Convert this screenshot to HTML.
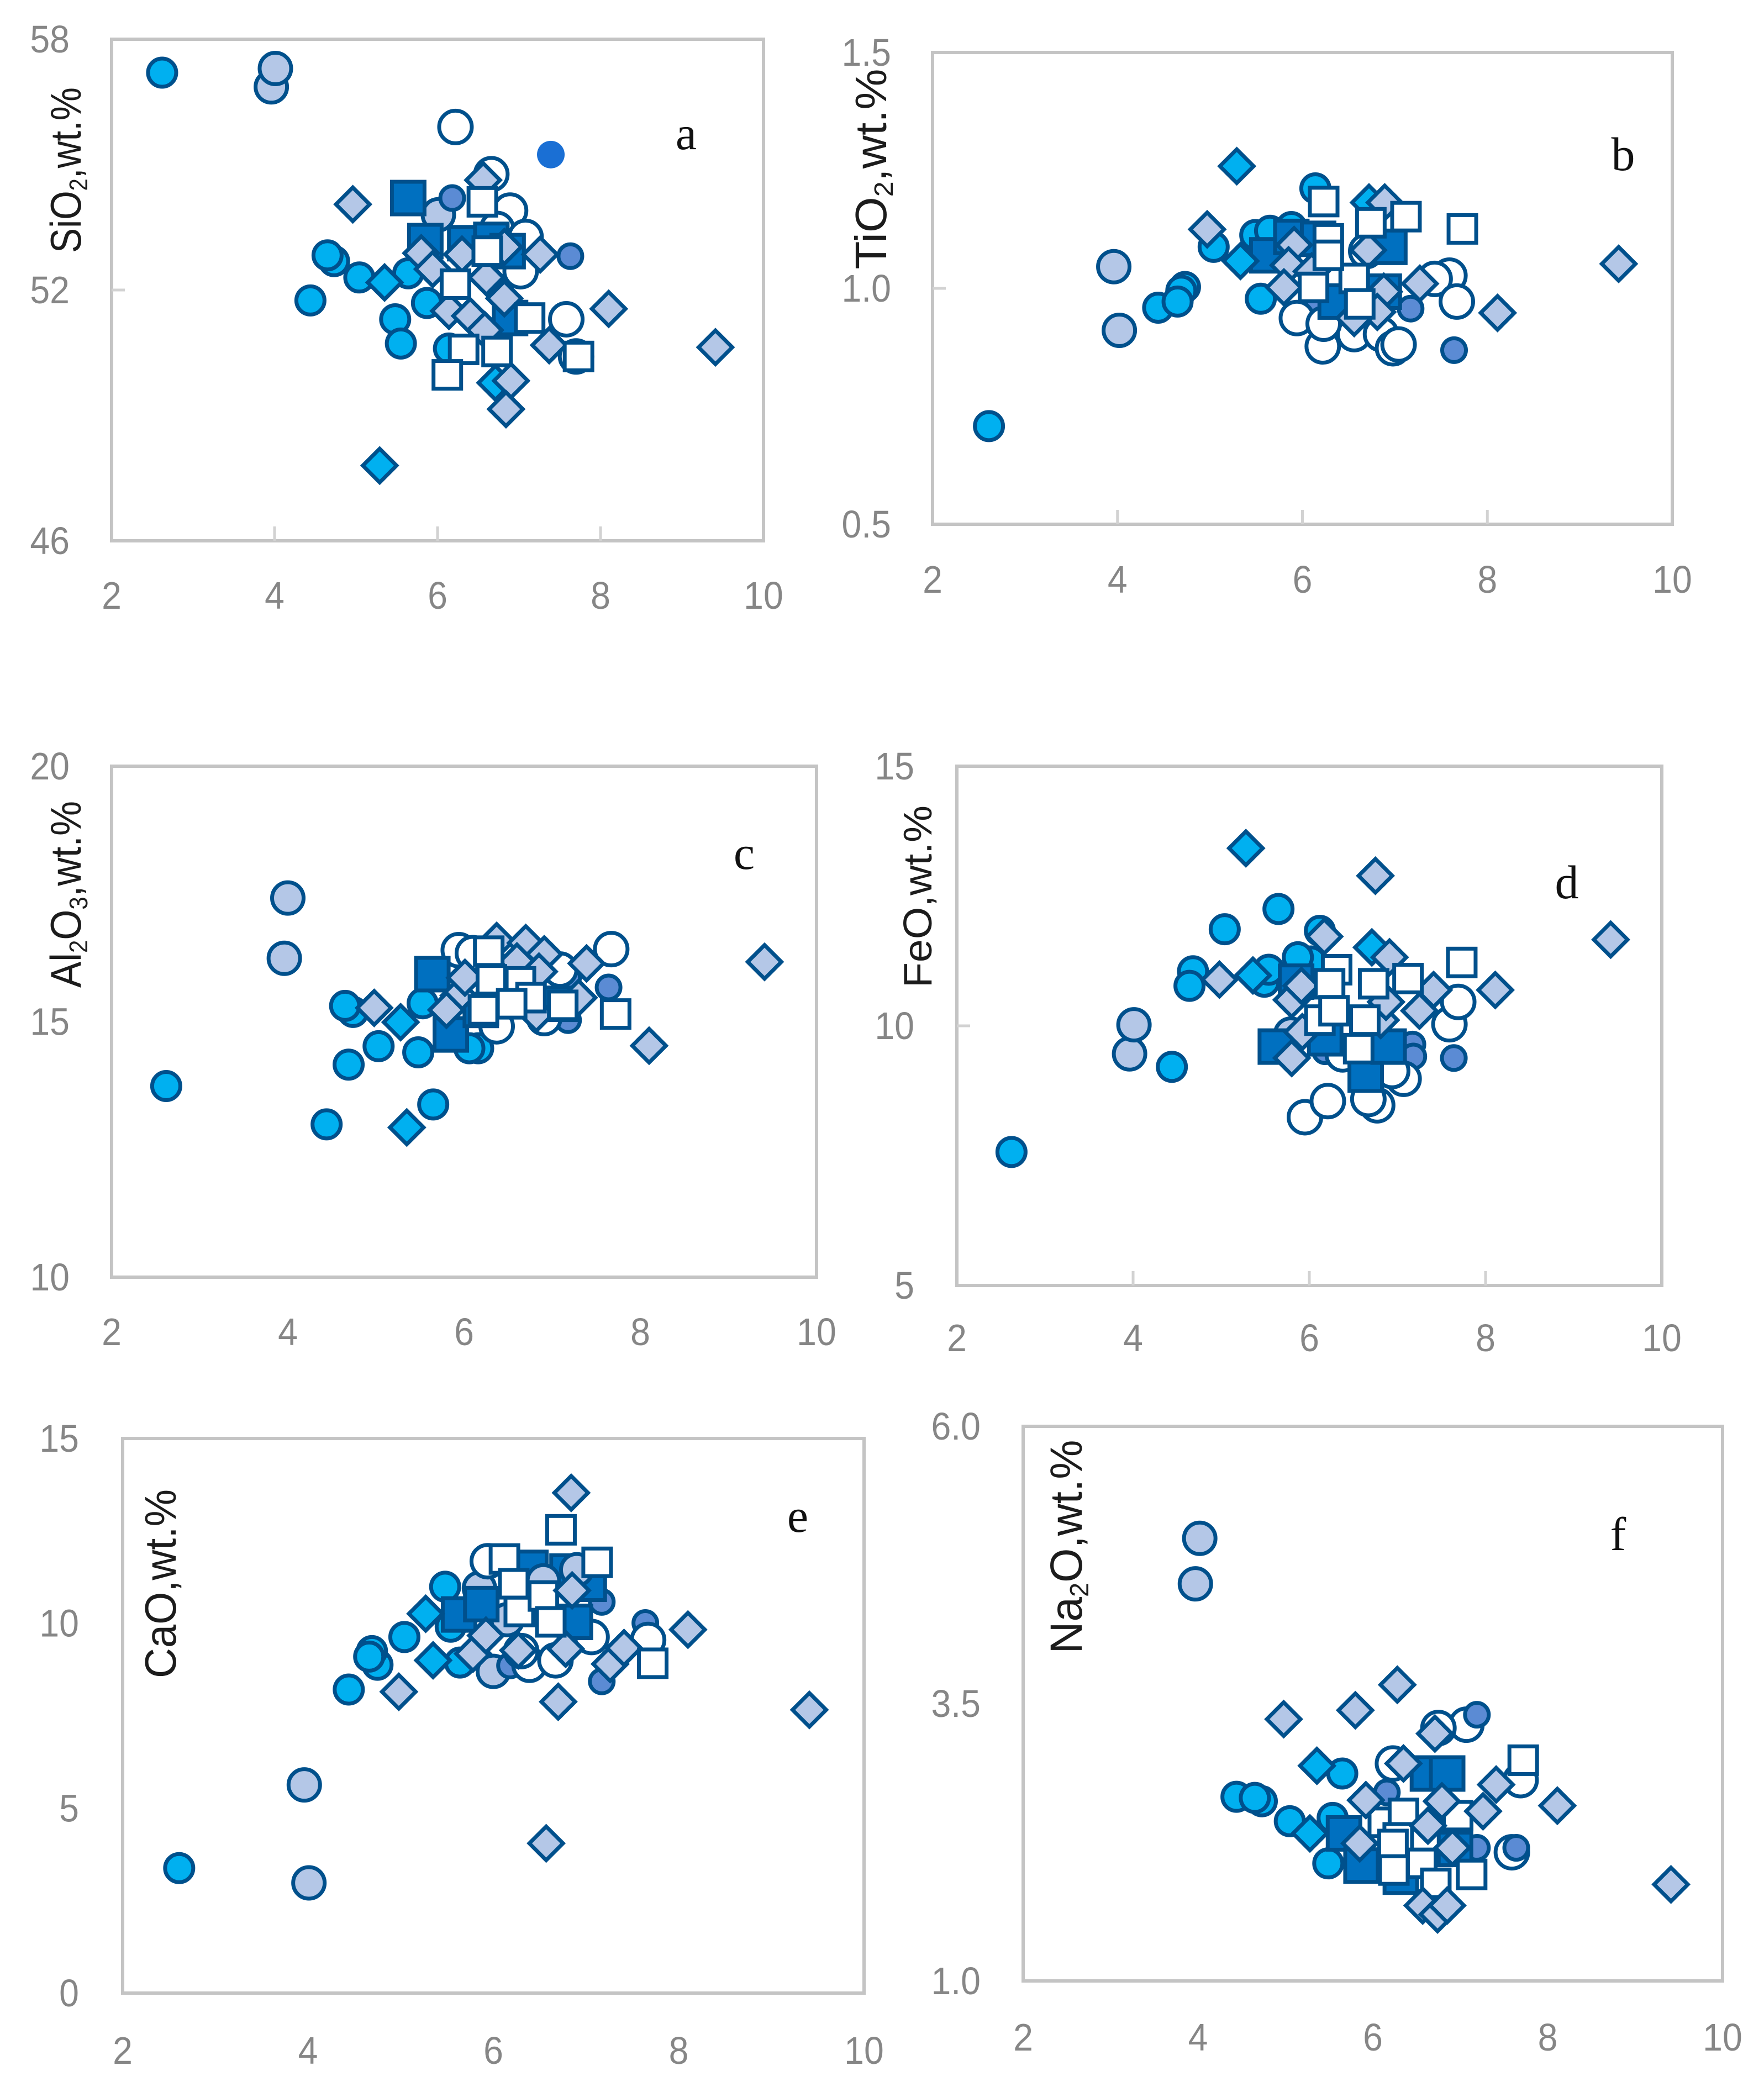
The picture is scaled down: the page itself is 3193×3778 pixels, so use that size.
<!DOCTYPE html>
<html lang="en">
<head>
<meta charset="utf-8">
<title>Major oxide scatter plots</title>
<style>
html,body{margin:0;padding:0;background:#fff;}
body{width:3193px;height:3778px;overflow:hidden;}
svg{display:block;}
.tick{font-family:"Liberation Sans",sans-serif;font-size:70px;fill:#868686;}
.title{font-family:"Liberation Sans",sans-serif;fill:#1c1c1c;}
.letter{font-family:"Liberation Serif",serif;font-size:86px;fill:#111;}
</style>
</head>
<body>
<svg id="fig" xmlns="http://www.w3.org/2000/svg" width="3193" height="3778" viewBox="0 0 3193 3778">
  <rect x="0" y="0" width="3193" height="3778" fill="#ffffff"/>
  <g id="marks"></g>

  <text class="title" font-size="78" text-anchor="middle" textLength="300" lengthAdjust="spacingAndGlyphs" transform="translate(146 308) rotate(-90)">SiO<tspan font-size="46" dy="12">2</tspan><tspan dy="-12">,wt.%</tspan></text>
  <text class="title" font-size="80" text-anchor="middle" textLength="363" lengthAdjust="spacingAndGlyphs" transform="translate(1604 306) rotate(-90)">TiO<tspan font-size="48" dy="12">2</tspan><tspan dy="-12">,wt.%</tspan></text>
  <text class="title" font-size="78" text-anchor="middle" textLength="338" lengthAdjust="spacingAndGlyphs" transform="translate(146 1619) rotate(-90)">Al<tspan font-size="46" dy="12">2</tspan><tspan dy="-12">O</tspan><tspan font-size="46" dy="12">3</tspan><tspan dy="-12">,wt.%</tspan></text>
  <text class="title" font-size="72" text-anchor="middle" textLength="330" lengthAdjust="spacingAndGlyphs" transform="translate(1686 1623) rotate(-90)">FeO,wt.%</text>
  <text class="title" font-size="80" text-anchor="middle" textLength="342" lengthAdjust="spacingAndGlyphs" transform="translate(318 2867) rotate(-90)">CaO,wt.%</text>
  <text class="title" font-size="82" text-anchor="middle" textLength="387" lengthAdjust="spacingAndGlyphs" transform="translate(1958 2800) rotate(-90)">Na<tspan font-size="48" dy="12">2</tspan><tspan dy="-12">O,wt.%</tspan></text>

  <text class="letter" x="1242" y="241" text-anchor="middle" dominant-baseline="central">a</text>
  <text class="letter" x="2938" y="279" text-anchor="middle" dominant-baseline="central">b</text>
  <text class="letter" x="1347" y="1544" text-anchor="middle" dominant-baseline="central">c</text>
  <text class="letter" x="2836" y="1597" text-anchor="middle" dominant-baseline="central">d</text>
  <text class="letter" x="1444" y="2744" text-anchor="middle" dominant-baseline="central">e</text>
  <text class="letter" x="2929" y="2777" text-anchor="middle" dominant-baseline="central">f</text>
</svg>
<script>
// ---- shared axis values ----
const xTicks = [2, 4, 6, 8, 10];
const xDomain = [2, 10];

// ---- panel a: SiO2 ----
const aYTicks = ['46', '52', '58'];
const aCyanCircle = [[2.62,57.2],[4.73,52.69],[4.65,52.83],[5.04,52.3],[5.64,52.4],[4.44,51.75],[5.87,51.69],[5.48,51.3],[5.55,50.72],[6.14,50.6]];
const aLightCircle = [[3.96,56.86],[4.01,57.3],[6.01,53.8]];
const aMidCircle = [[6.18,54.2],[7.63,52.81]];
const aSolidCircle = [[7.39,55.24]];
const aOpenCircle = [[6.22,55.9],[6.66,54.77],[6.89,53.9],[6.73,53.46],[7.08,53.27],[7.02,52.45],[7.58,51.3],[7.7,50.41]];
const aDarkSquare = [[5.64,54.2],[5.85,53.17],[6.34,53.12],[6.66,53.2],[6.86,52.93],[6.89,51.33]];
const aCyanDiamond = [[5.29,47.8],[5.35,52.18],[6.71,49.78]];
const aLightDiamond = [[4.96,54.05],[5.8,52.88],[5.94,52.5],[6.3,52.85],[6.6,52.3],[6.82,51.8],[6.14,51.5],[6.4,51.38],[6.58,51.04],[6.56,54.63],[6.82,53.03],[7.26,52.85],[8.1,51.55],[7.37,50.68],[9.41,50.63],[6.9,49.83],[6.84,49.15]];
const aOpenSquare = [[6.55,54.11],[6.61,52.93],[6.22,52.14],[7.13,51.33],[6.32,50.58],[6.73,50.53],[7.73,50.41],[6.12,49.97]];

// ---- panel b: TiO2 ----
const bYTicks = ['0.5', '1.0', '1.5'];
const bCyanCircle = [[2.61,0.708],[5.04,1.088],[4.73,1.003],[4.69,0.995],[4.44,0.959],[4.65,0.972],[5.55,0.978],[6.14,1.212],[5.49,1.113],[5.65,1.122],[5.88,1.13]];
const bLightCircle = [[3.96,1.046],[4.02,0.911]];
const bMidCircle = [[7.64,0.869],[7.17,0.957],[6.17,0.967]];
const bSolidCircle = [];
const bOpenCircle = [[5.94,0.937],[6.22,0.877],[6.56,0.903],[6.85,0.903],[6.98,0.873],[7.04,0.881],[7.59,1.027],[7.43,1.02],[7.67,0.972],[6.23,0.925],[6.69,1.079]];
const bDarkSquare = [[5.62,1.07],[5.88,1.109],[6.94,1.088],[6.36,0.972],[6.88,0.993],[6.17,1.105]];
const bCyanDiamond = [[5.29,1.259],[5.33,1.058],[6.72,1.182]];
const bLightDiamond = [[4.97,1.125],[5.91,1.092],[5.85,1.049],[5.8,1.002],[6.71,1.081],[6.89,1.182],[6.88,0.993],[6.81,0.95],[6.56,0.937],[7.27,1.01],[9.42,1.052],[8.11,0.948],[6.1,1.036]];
const bOpenSquare = [[6.23,1.184],[6.28,1.105],[6.74,1.139],[7.12,1.152],[7.73,1.126],[6.12,1.002],[6.56,1.021],[6.62,0.967],[6.28,1.07]];

// ---- panel c: Al2O3 ----
const cYTicks = ['10', '15', '20'];
const cCyanCircle = [[2.62,13.74],[4.44,12.99],[4.69,14.16],[4.74,15.19],[4.65,15.31],[5.03,14.52],[5.48,14.4],[5.65,13.38],[5.53,15.36],[6.16,14.48],[6.06,14.48]];
const cLightCircle = [[4.0,17.42],[3.96,16.24]];
const cMidCircle = [[7.64,15.67],[7.18,15.86],[7.18,15.03]];
const cSolidCircle = [];
const cOpenCircle = [[5.94,16.4],[7.67,16.42],[6.1,16.34],[6.91,15.07],[6.37,14.91],[7.09,16.02]];
const cDarkSquare = [[5.64,15.93],[5.85,14.75],[7.09,15.35],[6.19,15.23]];
const cCyanDiamond = [[5.28,14.99],[5.35,12.93]];
const cLightDiamond = [[4.98,15.27],[5.94,15.51],[6.01,15.86],[5.8,15.23],[6.37,16.58],[6.7,16.54],[6.91,16.32],[6.6,16.18],[7.39,16.14],[6.85,15.98],[8.1,14.53],[9.41,16.17],[6.82,15.15],[7.3,15.47]];
const cOpenSquare = [[6.28,16.38],[6.31,15.82],[6.64,15.78],[6.76,15.47],[6.22,15.23],[6.54,15.35],[7.12,15.32],[7.72,15.15]];

// ---- panel d: FeO ----
const dYTicks = ['5', '10', '15'];
const dCyanCircle = [[2.62,7.57],[4.44,9.21],[4.68,11.05],[4.64,10.77],[5.04,11.86],[5.65,12.25],[5.49,10.85],[5.54,11.08],[6.02,11.24],[5.87,11.32],[6.12,11.83]];
const dLightCircle = [[3.96,9.46],[4.01,10.02],[5.79,9.84]];
const dMidCircle = [[7.64,9.38],[7.17,9.64],[7.18,9.41],[6.18,9.51]];
const dSolidCircle = [];
const dOpenCircle = [[6.77,8.47],[5.95,8.24],[6.21,8.55],[6.67,8.59],[7.07,8.98],[6.94,9.13],[7.59,10.03],[7.69,10.46],[6.38,9.45]];
const dDarkSquare = [[5.62,9.6],[6.64,9.06],[6.9,9.6],[5.85,10.85],[6.18,9.76]];
const dCyanDiamond = [[5.28,13.42],[5.36,10.97],[6.71,11.51]];
const dLightDiamond = [[6.75,12.89],[9.42,11.66],[6.17,11.72],[4.98,10.89],[8.11,10.69],[7.41,10.69],[7.25,10.29],[6.91,11.32],[5.8,10.5],[5.91,10.77],[5.92,9.88],[5.8,9.38],[6.81,10.11],[6.87,10.46]];
const dOpenSquare = [[6.31,11.08],[6.23,10.81],[6.73,10.81],[7.12,10.91],[7.73,11.22],[6.12,10.11],[6.28,10.29],[6.63,10.11],[6.56,9.56]];

// ---- panel e: CaO ----
const eYTicks = ['0', '5', '10', '15'];
const eCyanCircle = [[2.61,3.38],[4.44,8.21],[4.75,8.88],[4.69,9.25],[4.66,9.1],[5.04,9.63],[5.48,10.99],[5.64,8.94],[5.54,9.91]];
const eLightCircle = [[3.96,5.63],[4.01,2.98],[6.0,8.7],[5.85,10.95],[6.15,10.1]];
const eMidCircle = [[7.64,10.01],[7.17,10.58],[7.17,8.43],[6.18,8.86]];
const eSolidCircle = [];
const eOpenCircle = [[5.94,11.68],[6.39,8.88],[6.67,9.0],[7.06,9.63],[7.67,9.55],[6.3,9.25]];
const eDarkSquare = [[6.4,11.5],[5.63,10.24],[5.87,10.52],[6.88,10.04],[7.03,11.07],[6.8,11.4]];
const eUpperLightCircle = [[6.9,11.45],[6.54,11.15]];
const eCyanDiamond = [[5.27,10.26],[5.35,9.0]];
const eLightDiamond = [[6.84,13.53],[8.1,9.83],[9.41,7.66],[4.98,8.15],[6.7,7.88],[6.57,4.05],[5.78,9.18],[5.92,9.67],[6.27,9.27],[6.78,9.31],[7.26,8.9],[7.41,9.33]];
const eOpenSquare = [[6.12,11.74],[6.22,11.07],[6.28,10.32],[6.54,10.74],[6.62,10.04],[6.73,12.53],[7.12,11.65],[7.72,8.92]];
const eTopDiamond = [[6.85,10.89]];

// ---- panel f: Na2O ----
const fYTicks = ['1.0', '3.5', '6.0'];
const fCyanCircle = [[4.44,2.66],[4.73,2.62],[4.65,2.65],[5.05,2.44],[5.65,2.87],[5.49,2.06],[5.54,2.47]];
const fLightCircle = [[4.02,4.99],[3.97,4.58]];
const fMidCircle = [[6.16,2.7],[7.19,2.2]];
const fSolidCircle = [];
const fOpenCircle = [[7.07,3.31],[6.75,3.28],[6.23,2.96],[7.69,2.81],[7.59,2.16]];
const fTopMidCircle = [[7.19,3.4],[7.64,2.2]];
const fDarkSquare = [[6.63,2.87],[6.85,2.87],[5.67,2.33],[5.87,2.04],[6.32,1.94],[6.94,2.19]];
const fCyanDiamond = [[5.36,2.94],[5.28,2.33]];
const fOpenSquare = [[7.72,2.99],[6.12,2.43],[6.35,2.51],[6.29,2.29],[6.23,2.23],[6.24,2.0],[6.56,2.06],[7.13,1.96],[6.72,1.88],[6.97,2.49]];
const fLightDiamond = [[6.28,3.67],[5.8,3.44],[4.98,3.36],[6.71,3.23],[6.35,2.96],[5.92,2.63],[6.79,2.62],[7.41,2.77],[7.26,2.53],[8.11,2.58],[6.63,2.4],[5.85,2.24],[6.91,2.2],[9.41,1.87],[6.57,1.68],[6.74,1.6],[6.85,1.68]];

// ---- drawing ----
const NS = 'http://www.w3.org/2000/svg';
const root = document.getElementById('marks');
const STROKE = '#00508c';
const STYLES = {
  cyanCircle:   {shape:'circle',  size:58, fill:'#00b0f0', stroke:STROKE},
  lightCircle:  {shape:'circle',  size:64, fill:'#b4c7e7', stroke:STROKE},
  midCircle:    {shape:'circle',  size:50, fill:'#5b8bd4', stroke:STROKE},
  solidCircle:  {shape:'circle',  size:50, fill:'#1a6fd4', stroke:'none'},
  openCircle:   {shape:'circle',  size:66, fill:'#ffffff', stroke:STROKE},
  darkSquare:   {shape:'square',  size:66, fill:'#0070c0', stroke:STROKE},
  cyanDiamond:  {shape:'diamond', size:66, fill:'#00b0f0', stroke:STROKE},
  lightDiamond: {shape:'diamond', size:66, fill:'#b4c7e7', stroke:STROKE},
  openSquare:   {shape:'square',  size:57, fill:'#ffffff', stroke:STROKE}
};
const SW = 7;

function make(tag, attrs, parent) {
  const el = document.createElementNS(NS, tag);
  for (const k in attrs) el.setAttribute(k, attrs[k]);
  parent.appendChild(el);
  return el;
}

function drawMark(parent, kind, px, py) {
  const st = STYLES[kind];
  const r = st.size / 2 - SW / 2;
  const base = {fill: st.fill, stroke: st.stroke, 'stroke-width': st.stroke === 'none' ? 0 : SW};
  let el;
  if (st.shape === 'circle') {
    const rr = st.stroke === 'none' ? st.size / 2 : r;
    el = make('circle', Object.assign({cx: px, cy: py, r: rr}, base), parent);
  } else if (st.shape === 'square') {
    el = make('rect', Object.assign({x: px - r, y: py - r, width: 2 * r, height: 2 * r}, base), parent);
  } else {
    const pts = [[px, py - r - 1], [px + r + 1, py], [px, py + r + 1], [px - r - 1, py]].map(p => p.join(',')).join(' ');
    el = make('polygon', Object.assign({points: pts}, base), parent);
  }
  
  
}

function narrow(t) {
  t.setAttribute('textLength', t.getComputedTextLength() * 0.92);
  t.setAttribute('lengthAdjust', 'spacingAndGlyphs');
}

function drawPanel(p) {
  const g = make('g', {}, root);
  
  

  const yVals = p.yTicks.map(Number);
  const yMin = yVals[0];
  const yMax = yVals[yVals.length - 1];
  const sx = v => p.left + (v - xDomain[0]) / (xDomain[1] - xDomain[0]) * (p.right - p.left);
  const sy = v => p.bottom - (v - yMin) / (yMax - yMin) * (p.bottom - p.top);

  const frame = make('rect', {x: p.left, y: p.top, width: p.right - p.left, height: p.bottom - p.top, fill: '#ffffff', stroke: '#c4c4c4', 'stroke-width': 6}, g);
  
  

  if (p.innerTicks) {
    xTicks.slice(1, -1).forEach(v => {
      const t = make('line', {x1: sx(v), x2: sx(v), y1: p.bottom, y2: p.bottom - 26, stroke: '#d2d2d2', 'stroke-width': 5}, g);
      
      
    });
    yVals.slice(1, -1).forEach(v => {
      const t = make('line', {x1: p.left, x2: p.left + 24, y1: sy(v), y2: sy(v), stroke: '#d2d2d2', 'stroke-width': 5}, g);
      
      
    });
  }

  xTicks.forEach(v => {
    const t = make('text', {x: sx(v), y: p.xLabelY, 'text-anchor': 'middle', 'dominant-baseline': 'central', class: 'tick'}, g);
    t.textContent = String(v);
    
    
    narrow(t);
  });
  p.yTicks.forEach(lab => {
    const t = make('text', {x: p.yLabelX, y: sy(Number(lab)), 'text-anchor': 'end', 'dominant-baseline': 'central', class: 'tick'}, g);
    t.textContent = lab;
    
    
    narrow(t);
  });

  p.series.forEach(s => {
    const sg = make('g', {}, g);
    
    
    s[1].forEach(d => drawMark(sg, s[0], sx(d[0]), sy(d[1])));
  });
}

drawPanel({id:'a-sio2', left:202, right:1382, top:71, bottom:979, xLabelY:1078, yLabelX:126, yTicks:aYTicks, innerTicks:true,
  series:[['cyanCircle',aCyanCircle],['lightCircle',aLightCircle],['midCircle',aMidCircle],['solidCircle',aSolidCircle],['openCircle',aOpenCircle],['darkSquare',aDarkSquare],['cyanDiamond',aCyanDiamond],['lightDiamond',aLightDiamond],['openSquare',aOpenSquare]]});
drawPanel({id:'b-tio2', left:1688, right:3027, top:95, bottom:949, xLabelY:1049, yLabelX:1613, yTicks:bYTicks, innerTicks:true,
  series:[['cyanCircle',bCyanCircle],['lightCircle',bLightCircle],['midCircle',bMidCircle],['solidCircle',bSolidCircle],['openCircle',bOpenCircle],['darkSquare',bDarkSquare],['cyanDiamond',bCyanDiamond],['lightDiamond',bLightDiamond],['openSquare',bOpenSquare]]});
drawPanel({id:'c-al2o3', left:202, right:1478, top:1387, bottom:2312, xLabelY:2411, yLabelX:126, yTicks:cYTicks, innerTicks:false,
  series:[['cyanCircle',cCyanCircle],['lightCircle',cLightCircle],['midCircle',cMidCircle],['solidCircle',cSolidCircle],['openCircle',cOpenCircle],['darkSquare',cDarkSquare],['cyanDiamond',cCyanDiamond],['lightDiamond',cLightDiamond],['openSquare',cOpenSquare]]});
drawPanel({id:'d-feo', left:1732, right:3008, top:1387, bottom:2327, xLabelY:2422, yLabelX:1655, yTicks:dYTicks, innerTicks:true,
  series:[['cyanCircle',dCyanCircle],['lightCircle',dLightCircle],['midCircle',dMidCircle],['solidCircle',dSolidCircle],['openCircle',dOpenCircle],['darkSquare',dDarkSquare],['cyanDiamond',dCyanDiamond],['lightDiamond',dLightDiamond],['openSquare',dOpenSquare]]});
drawPanel({id:'e-cao', left:222, right:1564, top:2604, bottom:3608, xLabelY:3712, yLabelX:143, yTicks:eYTicks, innerTicks:false,
  series:[['cyanCircle',eCyanCircle],['lightCircle',eLightCircle],['midCircle',eMidCircle],['solidCircle',eSolidCircle],['openCircle',eOpenCircle],['darkSquare',eDarkSquare],['lightCircle',eUpperLightCircle],['cyanDiamond',eCyanDiamond],['lightDiamond',eLightDiamond],['openSquare',eOpenSquare],['lightDiamond',eTopDiamond]]});
drawPanel({id:'f-na2o', left:1852, right:3118, top:2582, bottom:3586, xLabelY:3688, yLabelX:1775, yTicks:fYTicks, innerTicks:false,
  series:[['cyanCircle',fCyanCircle],['lightCircle',fLightCircle],['midCircle',fMidCircle],['solidCircle',fSolidCircle],['openCircle',fOpenCircle],['midCircle',fTopMidCircle],['darkSquare',fDarkSquare],['cyanDiamond',fCyanDiamond],['openSquare',fOpenSquare],['lightDiamond',fLightDiamond]]});
</script>
</body>
</html>
